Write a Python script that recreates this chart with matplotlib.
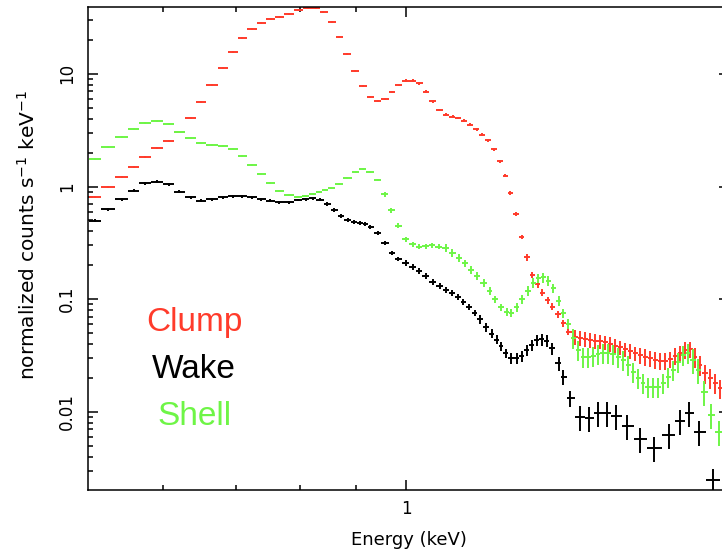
import numpy as np
import matplotlib
matplotlib.use("Agg")
import matplotlib.pyplot as plt
from matplotlib.ticker import LogLocator, FuncFormatter, NullFormatter

# binned spectra: bin centre energy (keV) and normalized counts s^-1 keV^-1
clump_e = [0.520, 0.534, 0.550, 0.564, 0.578, 0.593, 0.607, 0.621, 0.636, 0.650,
           0.665, 0.681, 0.695, 0.709, 0.723, 0.738, 0.753, 0.767, 0.782, 0.797,
           0.814, 0.828, 0.840, 0.856, 0.869, 0.883, 0.898, 0.914, 0.927, 0.942,
           0.957, 0.971, 0.985, 1.000, 1.014, 1.028, 1.043, 1.058, 1.073, 1.088,
           1.103, 1.116, 1.130, 1.144, 1.160, 1.173, 1.188, 1.203, 1.219, 1.232,
           1.245, 1.260, 1.275, 1.290, 1.304, 1.320, 1.331, 1.348, 1.359, 1.377,
           1.391, 1.406, 1.427, 1.442, 1.457, 1.473, 1.488, 1.504, 1.520, 1.536,
           1.552, 1.568, 1.585, 1.602, 1.619, 1.636, 1.653, 1.671, 1.688, 1.706,
           1.724, 1.742, 1.761, 1.779, 1.798, 1.817, 1.836, 1.855, 1.875, 1.895,
           1.915, 1.935]
clump_c = [0.812, 0.996, 1.22, 1.50, 1.84, 2.18, 2.55, 3.07, 4.06, 5.60,
           7.97, 11.3, 15.7, 20.7, 25.0, 28.5, 30.7, 32.2, 34.0, 36.9,
           38.5, 38.3, 35.7, 29.1, 21.4, 14.9, 10.6, 7.86, 6.27, 5.74,
           6.02, 6.86, 7.89, 8.70, 8.70, 8.22, 6.95, 5.74, 4.78, 4.34,
           4.17, 4.06, 3.84, 3.53, 3.24, 2.88, 2.57, 2.14, 1.68, 1.25,
           0.881, 0.570, 0.358, 0.235, 0.164, 0.136, 0.114, 0.0982, 0.0856, 0.0737,
           0.0613, 0.0513, 0.0458, 0.0449, 0.0440, 0.0433, 0.0427, 0.0422, 0.0413, 0.0399,
           0.0386, 0.0373, 0.0358, 0.0346, 0.0330, 0.0317, 0.0308, 0.0298, 0.0288, 0.0282,
           0.0282, 0.0292, 0.0312, 0.0330, 0.0353, 0.0358, 0.0308, 0.0260, 0.0219, 0.0198,
           0.0179, 0.0161]
clump_err = [0.02, 0.02, 0.02, 0.02, 0.02, 0.02, 0.02, 0.02, 0.02, 0.02,
             0.02, 0.02, 0.02, 0.02, 0.02, 0.02, 0.02, 0.02, 0.02, 0.02,
             0.02, 0.02, 0.02, 0.02, 0.02, 0.02, 0.02, 0.02, 0.02, 0.02,
             0.02, 0.02, 0.02, 0.03, 0.03, 0.03, 0.03, 0.03, 0.03, 0.03,
             0.03, 0.03, 0.03, 0.03, 0.03, 0.03, 0.03, 0.03, 0.03, 0.03,
             0.04, 0.04, 0.04, 0.07, 0.07, 0.07, 0.07, 0.07, 0.07, 0.07,
             0.07, 0.07, 0.15, 0.15, 0.15, 0.15, 0.15, 0.15, 0.15, 0.15,
             0.15, 0.15, 0.15, 0.15, 0.15, 0.17, 0.17, 0.17, 0.17, 0.17,
             0.17, 0.17, 0.17, 0.17, 0.17, 0.17, 0.20, 0.20, 0.20, 0.20,
             0.20, 0.20]

wake_e = [0.520, 0.534, 0.550, 0.564, 0.578, 0.593, 0.607, 0.621, 0.636, 0.650,
          0.665, 0.681, 0.695, 0.709, 0.723, 0.738, 0.752, 0.766, 0.782, 0.797,
          0.810, 0.822, 0.835, 0.847, 0.860, 0.872, 0.885, 0.897, 0.908, 0.918,
          0.928, 0.942, 0.957, 0.972, 0.984, 1.000, 1.014, 1.027, 1.043, 1.058,
          1.074, 1.087, 1.101, 1.115, 1.128, 1.142, 1.155, 1.168, 1.183, 1.197,
          1.210, 1.221, 1.233, 1.247, 1.262, 1.275, 1.289, 1.303, 1.317, 1.330,
          1.344, 1.359, 1.378, 1.392, 1.412, 1.442, 1.470, 1.497, 1.525, 1.555,
          1.592, 1.636, 1.685, 1.739, 1.779, 1.813, 1.852, 1.908]
wake_c = [0.497, 0.627, 0.770, 0.918, 1.07, 1.10, 1.05, 0.899, 0.802, 0.748,
          0.770, 0.802, 0.823, 0.823, 0.802, 0.770, 0.748, 0.724, 0.724, 0.759,
          0.770, 0.786, 0.766, 0.699, 0.618, 0.547, 0.504, 0.487, 0.477, 0.469,
          0.437, 0.384, 0.317, 0.258, 0.227, 0.208, 0.194, 0.178, 0.161, 0.143,
          0.131, 0.120, 0.113, 0.104, 0.0948, 0.0856, 0.0748, 0.0662, 0.0565, 0.0495,
          0.0438, 0.0383, 0.0330, 0.0300, 0.0298, 0.0312, 0.0353, 0.0391, 0.0433, 0.0440,
          0.0427, 0.0366, 0.0269, 0.0205, 0.0132, 0.00903, 0.00874, 0.00968, 0.00968, 0.00925,
          0.00746, 0.00572, 0.00473, 0.00621, 0.00827, 0.00968, 0.00664, 0.00247]
wake_err = [0.03, 0.03, 0.03, 0.03, 0.03, 0.03, 0.03, 0.03, 0.03, 0.03,
            0.03, 0.03, 0.03, 0.03, 0.03, 0.03, 0.03, 0.03, 0.03, 0.03,
            0.03, 0.03, 0.03, 0.04, 0.04, 0.04, 0.04, 0.04, 0.04, 0.04,
            0.04, 0.04, 0.04, 0.04, 0.04, 0.06, 0.06, 0.06, 0.06, 0.06,
            0.06, 0.06, 0.06, 0.06, 0.06, 0.06, 0.06, 0.09, 0.09, 0.09,
            0.09, 0.09, 0.09, 0.11, 0.11, 0.12, 0.12, 0.12, 0.12, 0.12,
            0.12, 0.12, 0.15, 0.15, 0.17, 0.25, 0.25, 0.25, 0.25, 0.25,
            0.25, 0.25, 0.25, 0.25, 0.25, 0.25, 0.25, 0.25]

shell_e = [0.520, 0.534, 0.550, 0.564, 0.578, 0.593, 0.607, 0.621, 0.636, 0.650,
           0.665, 0.681, 0.695, 0.709, 0.723, 0.738, 0.752, 0.766, 0.782, 0.797,
           0.810, 0.822, 0.833, 0.843, 0.854, 0.869, 0.884, 0.900, 0.913, 0.927,
           0.942, 0.957, 0.970, 0.984, 1.000, 1.014, 1.028, 1.042, 1.056, 1.072,
           1.087, 1.102, 1.118, 1.132, 1.147, 1.162, 1.177, 1.192, 1.206, 1.221,
           1.236, 1.248, 1.262, 1.276, 1.293, 1.307, 1.321, 1.335, 1.349, 1.363,
           1.378, 1.392, 1.407, 1.421, 1.436, 1.451, 1.466, 1.482, 1.497, 1.513,
           1.529, 1.545, 1.562, 1.578, 1.595, 1.612, 1.629, 1.646, 1.663, 1.681,
           1.699, 1.717, 1.735, 1.753, 1.772, 1.791, 1.809, 1.828, 1.848, 1.871,
           1.899, 1.931]
shell_c = [1.76, 2.23, 2.74, 3.26, 3.69, 3.84, 3.59, 3.07, 2.68, 2.42,
           2.32, 2.29, 2.14, 1.87, 1.55, 1.29, 1.08, 0.918, 0.840, 0.812,
           0.832, 0.861, 0.899, 0.931, 0.976, 1.05, 1.20, 1.35, 1.42, 1.35,
           1.14, 0.858, 0.618, 0.449, 0.342, 0.307, 0.292, 0.296, 0.302, 0.292,
           0.283, 0.258, 0.233, 0.208, 0.181, 0.160, 0.139, 0.118, 0.0996, 0.0846,
           0.0773, 0.0752, 0.0846, 0.0996, 0.118, 0.140, 0.153, 0.156, 0.146, 0.125,
           0.0968, 0.0748, 0.0601, 0.0451, 0.0353, 0.0306, 0.0306, 0.0315, 0.0325, 0.0334,
           0.0334, 0.0325, 0.0308, 0.0288, 0.0260, 0.0226, 0.0198, 0.0179, 0.0167, 0.0167,
           0.0167, 0.0179, 0.0205, 0.0235, 0.0278, 0.0319, 0.0330, 0.0288, 0.0235, 0.0150,
           0.00935, 0.00660]
shell_err = [0.02, 0.02, 0.02, 0.02, 0.02, 0.02, 0.02, 0.02, 0.02, 0.02,
             0.02, 0.02, 0.02, 0.02, 0.02, 0.02, 0.02, 0.02, 0.02, 0.02,
             0.02, 0.02, 0.02, 0.02, 0.02, 0.02, 0.02, 0.02, 0.02, 0.02,
             0.02, 0.05, 0.05, 0.05, 0.05, 0.05, 0.05, 0.05, 0.05, 0.05,
             0.08, 0.08, 0.08, 0.08, 0.08, 0.08, 0.08, 0.08, 0.08, 0.08,
             0.08, 0.08, 0.10, 0.10, 0.10, 0.10, 0.10, 0.10, 0.10, 0.10,
             0.10, 0.10, 0.10, 0.20, 0.20, 0.20, 0.20, 0.20, 0.20, 0.20,
             0.20, 0.20, 0.20, 0.20, 0.20, 0.20, 0.20, 0.20, 0.20, 0.20,
             0.20, 0.20, 0.20, 0.20, 0.20, 0.20, 0.20, 0.25, 0.25, 0.25,
             0.25, 0.25]

RED = "#FF3B2B"
GREEN = "#6EF546"
BLACK = "#000000"


def bin_halfwidths(e):
    # contiguous bins: edges at the geometric midpoints of neighbouring centres
    e = np.asarray(e)
    mid = np.sqrt(e[1:] * e[:-1])
    lo = np.concatenate([[e[0] ** 2 / mid[0]], mid])
    hi = np.concatenate([mid, [e[-1] ** 2 / mid[-1]]])
    return np.vstack([e - lo, hi - e])


def plot_spectrum(ax, e, c, frac, color):
    c = np.asarray(c)
    err = c * np.asarray(frac)
    ax.errorbar(e, c, xerr=bin_halfwidths(e), yerr=err, fmt="none",
                ecolor=color, elinewidth=1.4, capsize=0)


fig = plt.figure(figsize=(7.22, 5.52), dpi=100)
ax = fig.add_axes([88 / 722, 62 / 552, 641 / 722, 483.3 / 552])

plot_spectrum(ax, wake_e, wake_c, wake_err, BLACK)
plot_spectrum(ax, clump_e, clump_c, clump_err, RED)
plot_spectrum(ax, shell_e, shell_c, shell_err, GREEN)

ax.set_xscale("log")
ax.set_yscale("log")
ax.set_xlim(0.5125, 1.972)
ax.set_ylim(0.00202, 39.5)

fmt = FuncFormatter(lambda v, p: f"{v:g}")
for axis in (ax.xaxis, ax.yaxis):
    axis.set_major_locator(LogLocator(base=10))
    axis.set_minor_locator(LogLocator(base=10, subs=np.arange(2, 10), numticks=20))
    axis.set_major_formatter(fmt)
    axis.set_minor_formatter(NullFormatter())

for s in ax.spines.values():
    s.set_linewidth(1.1)
ax.tick_params(which="both", direction="in", top=True, right=True, width=1.1)
ax.tick_params(which="major", length=7.2)
ax.tick_params(which="minor", length=3.6)
ax.tick_params(axis="x", pad=7, labelsize=12)
ax.tick_params(axis="y", pad=8.5, labelsize=12, labelrotation=90)
for lbl in ax.get_yticklabels():
    lbl.set_verticalalignment("center")

ax.set_xlabel("Energy (keV)", fontsize=13)
ax.xaxis.set_label_coords(0.5008, -0.085)
ax.set_ylabel("normalized counts s$^{-1}$ keV$^{-1}$", fontsize=14.5)
ax.yaxis.set_label_coords(-0.076, 0.528)

for name, y, col in [("Clump", 0.3296, RED), ("Wake", 0.2311, BLACK), ("Shell", 0.1345, GREEN)]:
    ax.text(0.1654, y, name, color=col, fontsize=24, family="Liberation Sans",
            ha="center", va="baseline", transform=ax.transAxes)

fig.savefig("out.png", dpi=100)
